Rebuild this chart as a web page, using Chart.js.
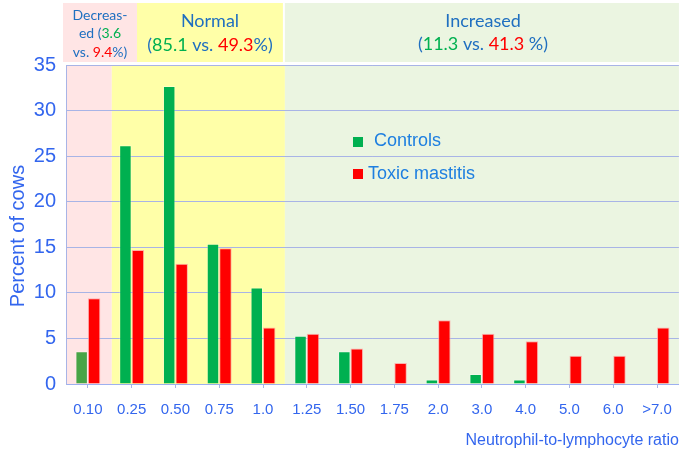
<!DOCTYPE html>
<html>
<head>
<meta charset="utf-8">
<script src="https://cdn.jsdelivr.net/npm/chart.js@4.4.1/dist/chart.umd.min.js"></script>
<style>
  html, body { margin: 0; padding: 0; background: #fff; }
  #wrap { width: 685px; height: 459px; }
</style>
</head>
<body>
<div id="wrap"><canvas id="c" width="685" height="459"></canvas></div>
<script>
const ratios = ['0.10', '0.25', '0.50', '0.75', '1.0', '1.25', '1.50', '1.75', '2.0', '3.0', '4.0', '5.0', '6.0', '>7.0'];
const controls = [3.6, 26.2, 32.7, 15.4, 10.6, 5.3, 3.6, 0, 0.5, 1.1, 0.5, 0, 0, 0];
const toxic = [9.4, 14.7, 13.2, 14.9, 6.2, 5.5, 3.9, 2.3, 7.0, 5.5, 4.7, 3.1, 3.1, 6.2];
const yTicks = [0, 5, 10, 15, 20, 25, 30, 35];

const BLUE = '#3366EE';
const HEAD_BLUE = '#1F6FC0';
const GREEN = '#00B050';
const RED = '#FF0000';

// last category index of the decreased and normal zones
const zoneEnds = [0, 4];

const greenColors = controls.map((v, i) => i === 0 ? '#47A447' : GREEN);

function drawParts(ctx, parts, cx, y) {
  let total = 0;
  parts.forEach(p => { total += ctx.measureText(p[0]).width; });
  let x = cx - total / 2;
  parts.forEach(p => {
    ctx.fillStyle = p[1];
    ctx.fillText(p[0], x, y);
    x += ctx.measureText(p[0]).width;
  });
}

const zones = {
  id: 'zones',
  beforeDraw(chart) {
    const { ctx, chartArea: a, scales: { x } } = chart;
    const half = (x.getPixelForValue(1) - x.getPixelForValue(0)) / 2;
    const b1 = x.getPixelForValue(zoneEnds[0]) + half + 2;
    const b2 = x.getPixelForValue(zoneEnds[1]) + half;
    ctx.save();
    // plot backgrounds
    ctx.fillStyle = '#FFE5E5';
    ctx.fillRect(a.left, a.top, b1 - a.left, a.bottom - a.top);
    ctx.fillStyle = '#FFFFA8';
    ctx.fillRect(b1, a.top, b2 - b1, a.bottom - a.top);
    ctx.fillStyle = '#EBF5E1';
    ctx.fillRect(b2, a.top, a.right - b2, a.bottom - a.top);
    // header boxes
    const hTop = 3, hBot = 62;
    ctx.fillStyle = '#FFE5E5';
    ctx.fillRect(63, hTop, 137 - 63, hBot - hTop);
    ctx.fillStyle = '#FFFFA8';
    ctx.fillRect(137, hTop, b2 - 2 - 137, hBot - hTop);
    ctx.fillStyle = '#EBF5E1';
    ctx.fillRect(b2, hTop, a.right - b2, hBot - hTop);

    ctx.textBaseline = 'middle';
    ctx.font = '14px Lato';
    drawParts(ctx, [['Decreas-', HEAD_BLUE]], 100, 15);
    drawParts(ctx, [['ed (', HEAD_BLUE], ['3.6', GREEN]], 100, 33);
    drawParts(ctx, [['vs. ', HEAD_BLUE], ['9.4', RED], ['%)', HEAD_BLUE]], 100, 52);

    ctx.font = '18px Lato';
    drawParts(ctx, [['Normal', HEAD_BLUE]], 210, 21);
    drawParts(ctx, [['(', HEAD_BLUE], ['85.1', GREEN], [' vs. ', HEAD_BLUE], ['49.3', RED], ['%)', HEAD_BLUE]], 210, 45);
    drawParts(ctx, [['Increased', HEAD_BLUE]], 483, 21);
    drawParts(ctx, [['(', HEAD_BLUE], ['11.3', GREEN], [' vs. ', HEAD_BLUE], ['41.3', RED], [' %)', HEAD_BLUE]], 483, 44);
    ctx.restore();
  },
  afterDraw(chart) {
    const { ctx, chartArea: a } = chart;
    ctx.save();
    // axis titles
    ctx.fillStyle = BLUE;
    ctx.font = '20px "Liberation Sans"';
    ctx.textAlign = 'center';
    ctx.textBaseline = 'middle';
    ctx.translate(18, 236);
    ctx.rotate(-Math.PI / 2);
    ctx.fillText('Percent of cows', 0, 0);
    ctx.setTransform(1, 0, 0, 1, 0, 0);
    ctx.font = '16px "Liberation Sans"';
    ctx.textAlign = 'right';
    ctx.fillText('Neutrophil-to-lymphocyte ratio', a.right, 441);

    // legend inside the plot
    const items = [
      { ds: chart.data.datasets[0], sx: 353, sy: 137, tx: 374, ty: 141 },
      { ds: chart.data.datasets[1], sx: 353, sy: 169, tx: 368, ty: 174 }
    ];
    ctx.font = '18px "Liberation Sans"';
    ctx.textAlign = 'left';
    items.forEach(it => {
      ctx.fillStyle = it.ds.legendColor;
      ctx.fillRect(it.sx, it.sy, 10, 10);
      ctx.fillStyle = '#1E7FE0';
      ctx.fillText(it.ds.label, it.tx, it.ty);
    });
    ctx.restore();
  }
};

new Chart(document.getElementById('c'), {
  type: 'bar',
  data: {
    labels: ratios,
    datasets: [
      {
        label: 'Controls',
        data: controls,
        backgroundColor: greenColors,
        borderColor: 'rgba(255,255,255,0.3)',
        borderWidth: 1,
        legendColor: GREEN,
        categoryPercentage: 0.57,
        barPercentage: 1.0
      },
      {
        label: 'Toxic mastitis',
        data: toxic,
        backgroundColor: RED,
        borderColor: 'rgba(255,160,160,0.8)',
        borderWidth: 1,
        legendColor: RED,
        categoryPercentage: 0.57,
        barPercentage: 1.0
      }
    ]
  },
  options: {
    responsive: false,
    animation: false,
    layout: { padding: { top: 65, right: 5, left: 0, bottom: 0 } },
    plugins: {
      legend: { display: false },
      tooltip: { enabled: false }
    },
    scales: {
      x: {
        afterFit(scale) { scale.height = 75; },
        grid: { drawOnChartArea: false, drawTicks: true, tickLength: 4, offset: false, color: '#A8B4E6' },
        border: { color: '#9DB0F0', width: 1 },
        ticks: { color: BLUE, font: { family: 'Liberation Sans', size: 15 }, padding: 13, maxRotation: 0, autoSkip: false }
      },
      y: {
        min: 0,
        max: 35,
        afterFit(scale) { scale.width = 66; },
        afterBuildTicks(scale) { scale.ticks = yTicks.map(v => ({ value: v })); },
        grid: { color: '#A8B4E6', drawTicks: false },
        border: { color: '#A8B4E6' },
        ticks: { color: BLUE, font: { family: 'Liberation Sans', size: 20 }, padding: 10 }
      }
    }
  },
  plugins: [zones]
});
</script>
</body>
</html>
